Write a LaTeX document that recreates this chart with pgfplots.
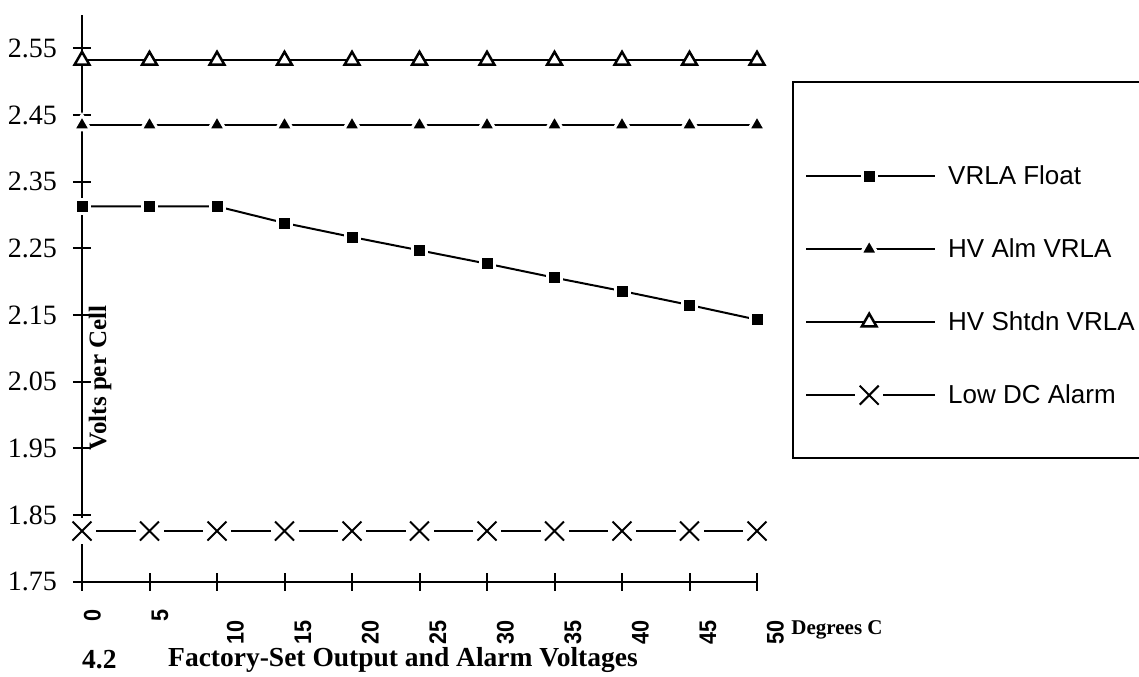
\documentclass[border=0pt]{standalone}
\usepackage{fontspec}
\setmainfont{Liberation Serif}
\newfontfamily\arial{Liberation Sans}
\newfontfamily\tickfont[FakeStretch=0.9]{Liberation Sans}
\usepackage{pgfplots}
\pgfplotsset{compat=1.18}
\newcommand\fs[1]{\fontsize{#1}{#1}\selectfont}
\newcommand\tl[1]{\raisebox{-8bp}{#1}\kern11bp}
\pgfdeclareplotmark{gapx}{%
  \begin{pgfscope}%
  \pgfpathrectangle{\pgfqpoint{-14bp}{-13bp}}{\pgfqpoint{28bp}{26bp}}%
  \pgfsetfillcolor{white}\pgfusepath{fill}%
  \end{pgfscope}%
  \pgfpathmoveto{\pgfqpoint{-9.5bp}{-9.5bp}}\pgfpathlineto{\pgfqpoint{9.5bp}{9.5bp}}%
  \pgfpathmoveto{\pgfqpoint{-9.5bp}{9.5bp}}\pgfpathlineto{\pgfqpoint{9.5bp}{-9.5bp}}%
  \pgfsetstrokecolor{black}\pgfusepath{stroke}}
\begin{document}
\begin{tikzpicture}[x=1bp,y=1bp]
\useasboundingbox (0,0) rectangle (1139,677);
\begin{axis}[
  at={(82bp,95.3bp)}, anchor=south west,
  scale only axis, width=675bp, height=566.7bp,
  xmin=0, xmax=50, ymin=1.75, ymax=2.6,
  axis lines=left, axis line style={-, line width=2bp, black},
  clip=false,
  xtick={0,5,10,15,20,25,30,35,40,45,50},
  xticklabels={0,5,\tl{10},\tl{15},\tl{20},\tl{25},\tl{30},\tl{35},\tl{40},\tl{45},\tl{50}},
  xticklabel style={xshift=10bp, yshift=-19bp, rotate=90, anchor=east, inner sep=0pt,
    text height=17bp, text depth=0pt, font=\tickfont\bfseries\fs{24bp}},
  ytick={1.75,1.85,1.95,2.05,2.15,2.25,2.35,2.45,2.55},
  yticklabels={1.75,1.85,1.95,2.05,2.15,2.25,2.35,2.45,2.55},
  yticklabel style={anchor=east, inner sep=0pt, xshift=-16bp, font=\fs{28bp}},
  tick align=center, major tick length=18bp, tick style={line width=2bp, black},
  ylabel={\textbf{Volts per Cell}},
  ylabel style={at={(axis description cs:0.0267,0.3595)}, anchor=center, font=\fs{25bp}},
  xlabel={\textbf{Degrees C}},
  xlabel style={at={(axis description cs:1.1185,-0.0852)}, anchor=center, font=\fs{21bp}},
  every axis plot/.append style={black, line width=2bp},
  legend cell align=left,
  legend style={draw=none, fill=none, at={(1.0711,0.7512)}, anchor=north west,
    inner sep=0pt, row sep=33bp, column sep=12bp,
    nodes={inner sep=0pt, minimum height=40bp, font=\arial\fs{26bp}}},
  legend image code/.code={\draw[mark repeat=2,mark phase=2] plot coordinates {(0bp,0bp) (63bp,0bp) (129bp,0bp)};},
]
\addplot[mark=square*, mark size=7bp, mark options={fill=black, draw=white, line width=3bp}] coordinates {
 (0,2.313) (5,2.313) (10,2.313) (15,2.288) (20,2.267) (25,2.247) (30,2.227) (35,2.206) (40,2.186) (45,2.165) (50,2.143)};
\addlegendentry{VRLA Float}
\addplot[mark=triangle*, mark size=10bp, mark options={fill=black, draw=white, line width=3bp}] coordinates {
 (0,2.435) (5,2.435) (10,2.435) (15,2.435) (20,2.435) (25,2.435) (30,2.435) (35,2.435) (40,2.435) (45,2.435) (50,2.435)};
\addlegendentry{HV Alm VRLA}
\addplot[mark=triangle*, mark size=8.5bp, mark options={fill=white, draw=black, line width=2.5bp}] coordinates {
 (0,2.532) (5,2.532) (10,2.532) (15,2.532) (20,2.532) (25,2.532) (30,2.532) (35,2.532) (40,2.532) (45,2.532) (50,2.532)};
\addlegendentry{HV Shtdn VRLA}
\addplot[mark=gapx, mark options={line width=2bp}] coordinates {
 (0,1.826) (5,1.826) (10,1.826) (15,1.826) (20,1.826) (25,1.826) (30,1.826) (35,1.826) (40,1.826) (45,1.826) (50,1.826)};
\addlegendentry{Low DC Alarm}
\draw[line width=2bp] (rel axis cs:1.0533,0.8818) rectangle (rel axis cs:1.75,0.2183);
\end{axis}
\node[anchor=west, font=\bfseries\fs{27.5bp}, inner sep=0pt] at (82,17) {4.2};
\node[anchor=west, font=\bfseries\fs{27.5bp}, inner sep=0pt] at (168,17) {Factory-Set Output and Alarm Voltages};
\end{tikzpicture}
\end{document}
